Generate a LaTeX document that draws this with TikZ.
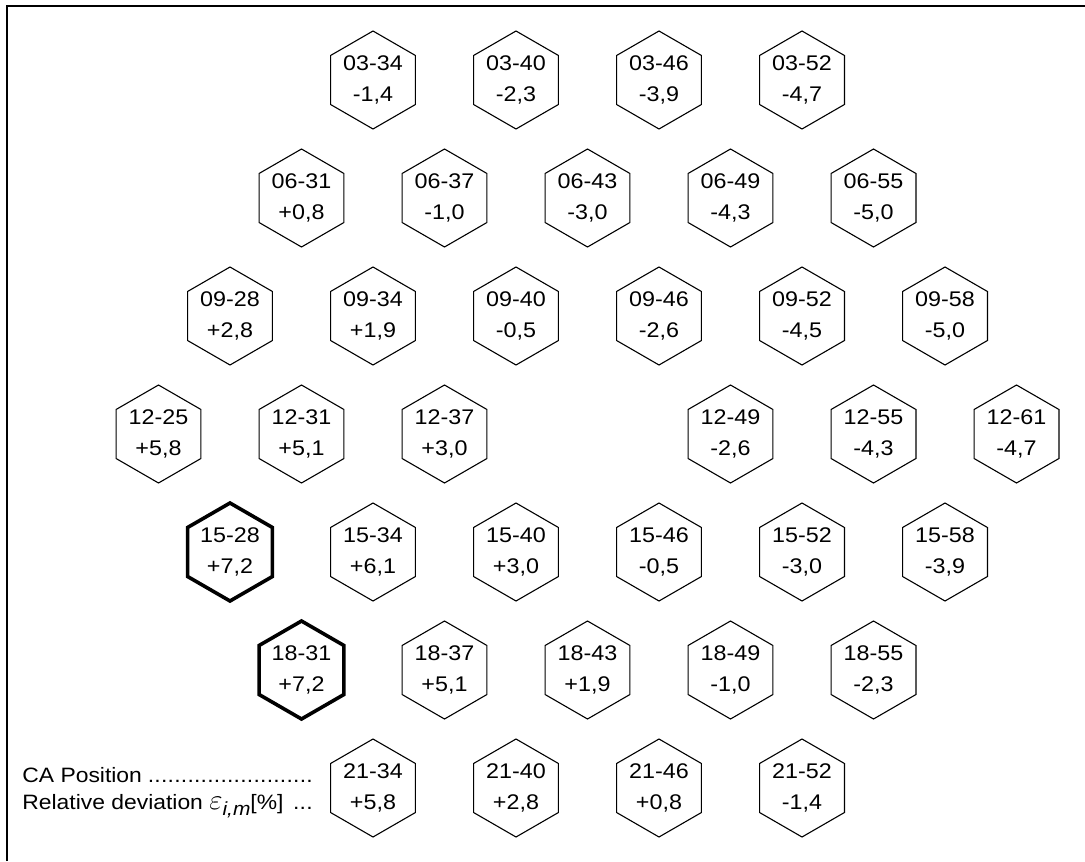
\documentclass[tikz,border=0pt]{standalone}
\usepackage{fontspec}
\setmainfont{Liberation Sans}[FakeStretch=1.1]
\usetikzlibrary{shapes.geometric}
\tikzset{
  cell/.style={shape=regular polygon, regular polygon sides=6, shape border rotate=30,
    minimum size=49pt, inner sep=0pt, draw=black, line width=0.55pt,
    align=center, font=\fontsize{10.6pt}{15.5pt}\selectfont},
  hot/.style={cell, line width=1.8pt},
  legend/.style={anchor=west, inner sep=0pt, font=\fontsize{10.4pt}{15.5pt}\selectfont},
  frame/.style={line width=1pt, draw=black}
}
\newcommand{\dotlead}{\leaders\hbox to 3.3pt{\hss.\hss}\hfill}
\newcommand{\epsim}{{\fontsize{15pt}{15pt}\selectfont$\varepsilon$}\raisebox{-3pt}{\fontsize{9.5pt}{10pt}\selectfont\itshape i,m}}
\begin{document}
\begin{tikzpicture}[x=0.5pt, y=-0.5pt]
\useasboundingbox (0,0) rectangle (1085,861);
\coordinate (fbl) at (7,861);
\coordinate (ftl) at (7,6);
\coordinate (ftr) at (1085,6);
\draw[frame] (fbl) -- (ftl) -- (ftr);
% row 03
\node[cell] (c0334) at (373,80) {03-34\\-1,4};
\node[cell] (c0340) at (516,80) {03-40\\-2,3};
\node[cell] (c0346) at (659,80) {03-46\\-3,9};
\node[cell] (c0352) at (802,80) {03-52\\-4,7};
% row 06
\node[cell] (c0631) at (301.5,198) {06-31\\+0,8};
\node[cell] (c0637) at (444.5,198) {06-37\\-1,0};
\node[cell] (c0643) at (587.5,198) {06-43\\-3,0};
\node[cell] (c0649) at (730.5,198) {06-49\\-4,3};
\node[cell] (c0655) at (873.5,198) {06-55\\-5,0};
% row 09
\node[cell] (c0928) at (230,316) {09-28\\+2,8};
\node[cell] (c0934) at (373,316) {09-34\\+1,9};
\node[cell] (c0940) at (516,316) {09-40\\-0,5};
\node[cell] (c0946) at (659,316) {09-46\\-2,6};
\node[cell] (c0952) at (802,316) {09-52\\-4,5};
\node[cell] (c0958) at (945,316) {09-58\\-5,0};
% row 12
\node[cell] (c1225) at (158.5,434) {12-25\\+5,8};
\node[cell] (c1231) at (301.5,434) {12-31\\+5,1};
\node[cell] (c1237) at (444.5,434) {12-37\\+3,0};
\node[cell] (c1249) at (730.5,434) {12-49\\-2,6};
\node[cell] (c1255) at (873.5,434) {12-55\\-4,3};
\node[cell] (c1261) at (1016.5,434) {12-61\\-4,7};
% row 15
\node[hot]  (c1528) at (230,552) {15-28\\+7,2};
\node[cell] (c1534) at (373,552) {15-34\\+6,1};
\node[cell] (c1540) at (516,552) {15-40\\+3,0};
\node[cell] (c1546) at (659,552) {15-46\\-0,5};
\node[cell] (c1552) at (802,552) {15-52\\-3,0};
\node[cell] (c1558) at (945,552) {15-58\\-3,9};
% row 18
\node[hot]  (c1831) at (301.5,670) {18-31\\+7,2};
\node[cell] (c1837) at (444.5,670) {18-37\\+5,1};
\node[cell] (c1843) at (587.5,670) {18-43\\+1,9};
\node[cell] (c1849) at (730.5,670) {18-49\\-1,0};
\node[cell] (c1855) at (873.5,670) {18-55\\-2,3};
% row 21
\node[cell] (c2134) at (373,788) {21-34\\+5,8};
\node[cell] (c2140) at (516,788) {21-40\\+2,8};
\node[cell] (c2146) at (659,788) {21-46\\+0,8};
\node[cell] (c2152) at (802,788) {21-52\\-1,4};
% legend
\node[legend] (legca) at (22,775) {\hbox to 148pt{CA Position\dotlead}};
\node[legend] (legdev) at (22,806) {\hbox to 148pt{Relative deviation \epsim[\%] \dotlead}};
\end{tikzpicture}
\end{document}
